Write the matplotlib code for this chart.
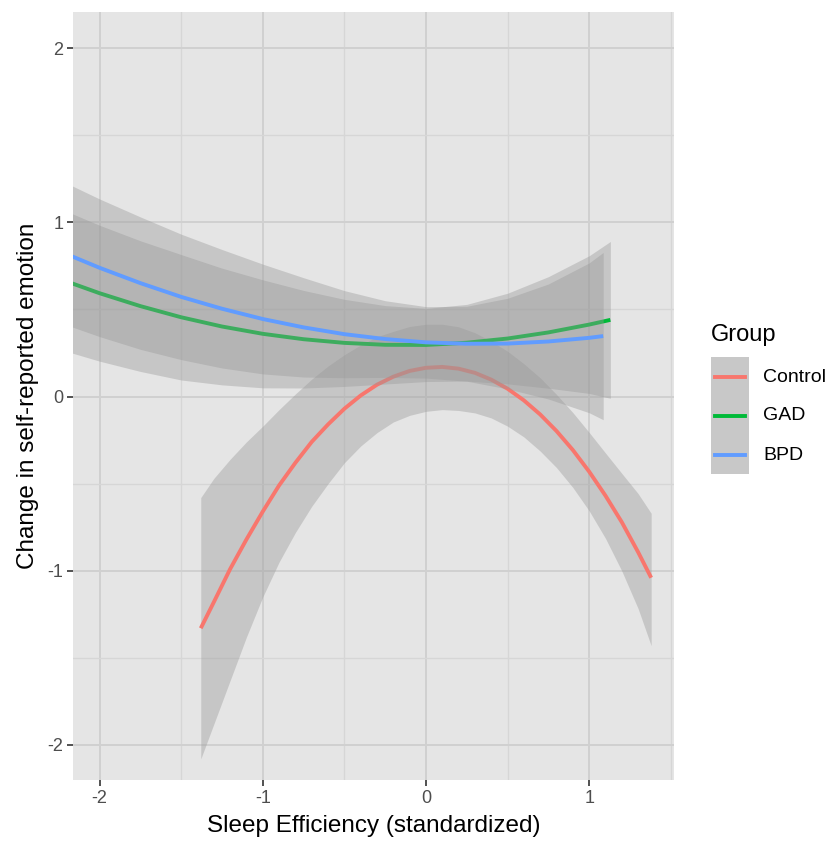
import matplotlib
matplotlib.use("Agg")
import matplotlib.pyplot as plt
from matplotlib.patches import Rectangle
from matplotlib.lines import Line2D

plt.rcParams['font.family'] = ['Liberation Sans', 'DejaVu Sans']
plt.rcParams['axes.unicode_minus'] = False

# values
ctrl_x = [-1.38, -1.3, -1.2, -1.1, -1.0, -0.9, -0.8, -0.7, -0.6, -0.5, -0.4, -0.3, -0.2, -0.1, 0.0,
          0.1, 0.2, 0.3, 0.4, 0.5, 0.6, 0.7, 0.8, 0.9, 1.0, 1.1, 1.2, 1.3, 1.38]
ctrl_fit = [-1.33, -1.18, -0.99, -0.82, -0.66, -0.51, -0.38, -0.26, -0.16, -0.07, 0.006, 0.068, 0.114, 0.147, 0.165,
            0.17, 0.16, 0.136, 0.097, 0.045, -0.022, -0.103, -0.198, -0.307, -0.431, -0.569, -0.721, -0.893, -1.04]
ctrl_lo = [-2.08, -1.88, -1.63, -1.38, -1.15, -0.95, -0.78, -0.63, -0.50, -0.38, -0.284, -0.207, -0.146, -0.108, -0.085,
           -0.075, -0.08, -0.094, -0.123, -0.17, -0.232, -0.313, -0.408, -0.522, -0.656, -0.814, -1.001, -1.217, -1.43]
ctrl_hi = [-0.58, -0.47, -0.36, -0.26, -0.17, -0.075, 0.015, 0.10, 0.175, 0.24, 0.296, 0.343, 0.374, 0.402, 0.415,
           0.415, 0.40, 0.366, 0.317, 0.26, 0.188, 0.107, 0.012, -0.092, -0.206, -0.324, -0.441, -0.557, -0.67]

gad_x = [-2.17, -2.0, -1.75, -1.5, -1.25, -1.0, -0.75, -0.5, -0.25, 0.0, 0.25, 0.5, 0.75, 1.0, 1.13]
gad_fit = [0.65, 0.593, 0.519, 0.455, 0.402, 0.36, 0.329, 0.308, 0.297, 0.296, 0.309, 0.333, 0.368, 0.413, 0.44]
gad_lo = [0.25, 0.203, 0.144, 0.095, 0.067, 0.05, 0.049, 0.058, 0.072, 0.086, 0.089, 0.073, 0.048, 0.018, -0.01]
gad_hi = [1.05, 0.983, 0.894, 0.815, 0.737, 0.67, 0.609, 0.558, 0.522, 0.506, 0.529, 0.593, 0.688, 0.808, 0.89]

bpd_x = [-2.17, -2.0, -1.75, -1.5, -1.25, -1.0, -0.75, -0.5, -0.25, 0.0, 0.25, 0.5, 0.75, 1.0, 1.086]
bpd_fit = [0.805, 0.739, 0.651, 0.572, 0.504, 0.445, 0.397, 0.358, 0.330, 0.311, 0.303, 0.304, 0.316, 0.337, 0.347]
bpd_lo = [0.40, 0.344, 0.271, 0.212, 0.164, 0.13, 0.112, 0.108, 0.11, 0.106, 0.088, 0.044, -0.014, -0.093, -0.133]
bpd_hi = [1.21, 1.134, 1.031, 0.932, 0.844, 0.76, 0.682, 0.608, 0.55, 0.516, 0.518, 0.564, 0.646, 0.767, 0.827]

groups = ["Control", "GAD", "BPD"]
colors = ["#F8766D", "#00BA38", "#619CFF"]

x_ticks = [-2, -1, 0, 1]
y_ticks = [-2, -1, 0, 1, 2]

fig = plt.figure(figsize=(8.4, 8.48), dpi=100)
ax = fig.add_axes([0.0869, 0.0802, 0.7155, 0.9056])
ax.set_facecolor("#E5E5E5")

series = [(ctrl_x, ctrl_fit, ctrl_lo, ctrl_hi),
          (gad_x, gad_fit, gad_lo, gad_hi),
          (bpd_x, bpd_fit, bpd_lo, bpd_hi)]
for i, (xs, fit, lo, hi) in enumerate(series):
    ax.fill_between(xs, lo, hi, color="#999999", alpha=0.4, linewidth=0, zorder=2 + 2 * i)
    ax.plot(xs, fit, color=colors[i], lw=2.8, solid_capstyle="butt", zorder=3 + 2 * i)

ax.set_xlim(-2.163, 1.52)
ax.set_ylim(-2.201, 2.207)
ax.set_xticks(x_ticks)
ax.set_yticks(y_ticks)
ax.set_xticks([-1.5, -0.5, 0.5, 1.5], minor=True)
ax.set_yticks([-1.5, -0.5, 0.5, 1.5], minor=True)
ax.grid(which="major", color="#D0D0D0", lw=1.4, zorder=1)
ax.grid(which="minor", color="#D6D6D6", lw=1.0, zorder=1)
ax.set_axisbelow(True)
for s in ax.spines.values():
    s.set_visible(False)
ax.tick_params(which="major", length=4, width=1.2, color="#333333",
               labelsize=13, labelcolor="#4D4D4D", pad=3)
ax.tick_params(which="minor", length=0)

ax.set_xlabel("Sleep Efficiency (standardized)", fontsize=17.5, color="black", labelpad=6)
ax.set_ylabel("Change in self-reported emotion", fontsize=17.5, color="black", labelpad=6)

# legend drawn by hand, ggplot style
W, H = 840, 848
fig.text(711 / W, 1 - 335 / H, "Group", fontsize=17, va="center", ha="left")
fig.add_artist(Rectangle((711 / W, 1 - 474 / H), 38 / W, 117 / H,
                         transform=fig.transFigure, color="#C8C8C8", lw=0))
key_y = [377, 416, 455]
for name, c, ky in zip(groups, colors, key_y):
    fig.add_artist(Line2D([715 / W, 745 / W], [1 - ky / H, 1 - ky / H],
                          transform=fig.transFigure, color=c, lw=2.8))
    fig.text(763 / W, 1 - ky / H, name, fontsize=14, va="center", ha="left")

fig.savefig("out.png", dpi=100)
